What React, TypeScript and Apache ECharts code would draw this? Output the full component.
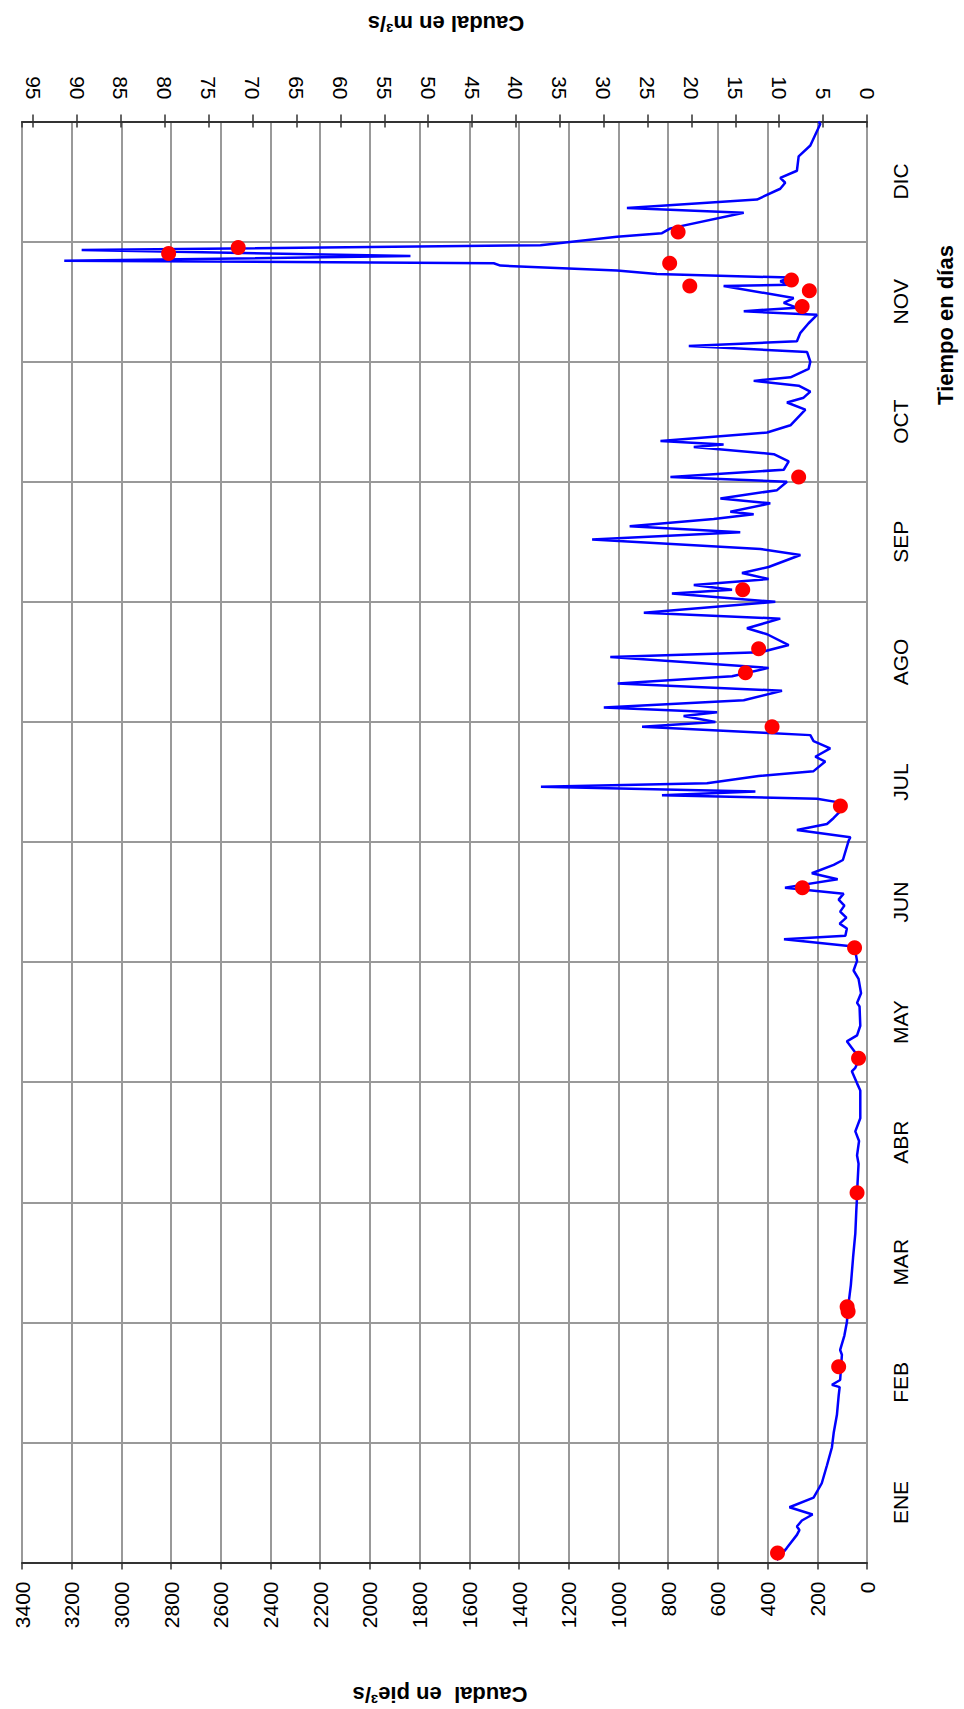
import React, { useEffect, useRef } from "react";
import * as echarts from "echarts";

// Month labels (time axis, bottom -> top)
const monthLabels = ["ENE", "FEB", "MAR", "ABR", "MAY", "JUN", "JUL", "AGO", "SEP", "OCT", "NOV", "DIC"];

// Daily hydrograph, time in months from 1 January (0..12), flow in ft3/s
const flowMonthsH1 = [
  0.02, 0.12, 0.23, 0.27, 0.3, 0.35, 0.4, 0.46, 0.54, 0.66,
  0.81, 0.96, 1.08, 1.23, 1.39, 1.46, 1.48, 1.52, 1.73, 1.77,
  1.89, 2.0, 2.16, 2.31, 2.54, 2.74, 2.93, 3.05, 3.16, 3.32,
  3.39, 3.51, 3.59, 3.7, 3.93, 3.99, 4.09, 4.12, 4.2, 4.34,
  4.39, 4.47, 4.63, 4.66, 4.74, 4.86, 4.93, 5.01, 5.09, 5.13,
  5.19, 5.22, 5.28, 5.32, 5.37, 5.42, 5.47, 5.52, 5.57, 5.62,
  5.69, 5.74, 5.81, 5.85, 6.01,
];
const flowCfsH1 = [
  363, 323, 282, 272, 282, 262, 219, 312, 215, 182,
  161, 141, 134, 121, 114, 110, 141, 108, 101, 108,
  91, 81, 74, 65, 56, 47, 43, 40, 38, 34,
  40, 32, 47, 27, 27, 40, 61, 47, 30, 81,
  40, 27, 30, 40, 24, 34, 54, 40, 47, 54,
  334, 87, 81, 110, 83, 108, 91, 114, 94, 330,
  118, 222, 134, 97, 74,
];
const flowMonthsH2 = [
  6.04, 6.1, 6.15, 6.2, 6.27, 6.33, 6.36, 6.39, 6.42, 6.46,
  6.49, 6.55, 6.59, 6.67, 6.71, 6.78, 6.84, 6.89, 6.91, 6.96,
  7.0, 7.05, 7.08, 7.12, 7.18, 7.26, 7.32, 7.38, 7.45, 7.54,
  7.58, 7.64, 7.73, 7.78, 7.86, 7.91, 8.0, 8.07, 8.1, 8.14,
  8.19, 8.24, 8.29, 8.39, 8.44, 8.52, 8.58, 8.63, 8.69, 8.73,
  8.75, 8.82, 8.86, 8.93, 9.0, 9.04, 9.1, 9.17, 9.23, 9.29,
  9.31, 9.34, 9.41, 9.47, 9.6, 9.66, 9.7, 9.75, 9.8, 9.84,
  9.87, 9.94, 10.0, 10.08, 10.13, 10.17, 10.24, 10.32, 10.39, 10.42,
  10.45, 10.49, 10.53, 10.63, 10.64, 10.67, 10.7, 10.73, 10.76, 10.8,
  10.82, 10.84, 10.88, 10.93, 10.97, 11.04, 11.07, 11.11, 11.24, 11.28,
  11.35, 11.44, 11.49, 11.53, 11.59, 11.71, 11.8, 11.98, 12.0,
];
const flowCfsH2 = [
  67, 282, 161, 134, 101, 114, 201, 825, 449, 1312,
  644, 436, 215, 168, 208, 148, 215, 228, 416, 905,
  610, 738, 603, 1059, 496, 342, 1003, 543, 396, 1033,
  429, 315, 402, 483, 349, 898, 369, 785, 543, 697,
  396, 503, 396, 268, 429, 1106, 510, 955, 617, 456,
  550, 389, 590, 362, 322, 791, 335, 315, 375, 697,
  577, 831, 402, 308, 248, 322, 255, 228, 275, 456,
  308, 235, 228, 241, 717, 282, 268, 235, 201, 496,
  282, 335, 295, 577, 308, 349, 308, 845, 1006, 1475,
  1502, 3230, 1837, 3160, 1314, 1006, 825, 791, 496, 966,
  443, 349, 329, 349, 282, 275, 228, 188, 195,
];

// Measured points (red dots)
const sampleMonths = [0.08, 1.63, 2.09, 2.13, 3.08, 4.2, 5.12, 5.62, 6.3, 6.96, 7.41, 7.61, 8.1, 9.04, 10.46, 10.59, 10.68, 10.63, 10.82, 10.9, 10.95, 11.08];
const sampleCfs = [360, 114, 76, 80, 40, 34, 50, 260, 107, 382, 489, 436, 500, 275, 261, 232, 304, 713, 794, 2810, 2530, 760];

const CFS_PER_CMS = 35.3147;
const CFS_MAX = 3400;
const FONT = '"Liberation Sans", Arial, sans-serif';

export default function App() {
  const ref = useRef<HTMLDivElement>(null);

  useEffect(() => {
    const chart = echarts.init(ref.current as HTMLDivElement, null, { renderer: "svg" });
    const months = flowMonthsH1.concat(flowMonthsH2);
    const cfs = flowCfsH1.concat(flowCfsH2);
    const lineData = months.map((m, i) => [cfs[i], m]);
    const dotData = sampleMonths.map((m, i) => [sampleCfs[i], m]);
    const axisColor = "#333";
    const gridColor = "#999";
    const cmsMax = CFS_MAX / CFS_PER_CMS;

    chart.setOption({
      animation: false,
      backgroundColor: "#fff",
      textStyle: { fontFamily: FONT },
      grid: { left: 22, top: 121.5, width: 845, height: 1441, containLabel: false },
      xAxis: [
        {
          type: "value",
          position: "bottom",
          min: 0,
          max: CFS_MAX,
          interval: 200,
          inverse: true,
          axisLine: { show: true, lineStyle: { color: axisColor, width: 2 } },
          axisTick: { show: true, inside: false, length: 7, lineStyle: { color: axisColor, width: 1.5 } },
          axisLabel: {
            rotate: 90,
            margin: 19,
            fontSize: 21,
            color: "#000",
            fontFamily: FONT,
            formatter: (v: number) => String(Math.round(v)),
          },
          splitLine: { show: true, lineStyle: { color: gridColor, width: 2 } },
        },
        {
          type: "value",
          position: "top",
          min: 0,
          max: cmsMax,
          interval: 5,
          inverse: true,
          axisLine: { show: true, lineStyle: { color: axisColor, width: 2 } },
          axisTick: { show: true, inside: false, length: 7, lineStyle: { color: axisColor, width: 1.5 } },
          axisLabel: {
            rotate: 90,
            margin: 22,
            fontSize: 21,
            color: "#000",
            fontFamily: FONT,
            showMaxLabel: false,
            formatter: (v: number) => (Math.abs(v - Math.round(v / 5) * 5) < 1e-6 ? String(Math.round(v)) : ""),
          },
          splitLine: { show: false },
        },
        {
          type: "value",
          position: "top",
          min: 0,
          max: cmsMax,
          interval: 5,
          inverse: true,
          axisLine: { show: false },
          axisTick: { show: true, inside: true, length: 6, lineStyle: { color: axisColor, width: 1.5 } },
          axisLabel: { show: false },
          splitLine: { show: false },
        },
      ],
      yAxis: [
        {
          type: "value",
          position: "right",
          min: 0,
          max: 12,
          interval: 1,
          axisLine: { show: false },
          axisTick: { show: false },
          axisLabel: { show: false },
          splitLine: { show: true, lineStyle: { color: gridColor, width: 2 } },
        },
        {
          type: "category",
          position: "right",
          data: monthLabels,
          boundaryGap: true,
          axisLine: { show: false },
          axisTick: { show: false },
          axisLabel: { rotate: 90, margin: 23, fontSize: 21, color: "#000", fontFamily: FONT },
          splitLine: { show: false },
        },
      ],
      series: [
        {
          type: "line",
          xAxisIndex: 0,
          yAxisIndex: 0,
          data: lineData,
          showSymbol: false,
          symbol: "none",
          lineStyle: { color: "#0000FF", width: 2.5, opacity: 1 },
          itemStyle: { color: "#0000FF" },
          z: 3,
        },
        {
          type: "scatter",
          xAxisIndex: 0,
          yAxisIndex: 0,
          data: dotData,
          symbol: "circle",
          symbolSize: 15,
          itemStyle: { color: "#FF0000", opacity: 1 },
          z: 4,
        },
      ],
      graphic: [
        {
          type: "text",
          x: 446,
          y: 23,
          rotation: Math.PI,
          style: {
            text: "Caudal en m³/s",
            fontSize: 22,
            fontWeight: "bold",
            fontFamily: FONT,
            fill: "#000",
            align: "center",
            verticalAlign: "middle",
          },
        },
        {
          type: "text",
          x: 440,
          y: 1694,
          rotation: Math.PI,
          style: {
            text: "Caudal  en pie³/s",
            fontSize: 22,
            fontWeight: "bold",
            fontFamily: FONT,
            fill: "#000",
            align: "center",
            verticalAlign: "middle",
          },
        },
        {
          type: "text",
          x: 945,
          y: 325,
          rotation: Math.PI / 2,
          style: {
            text: "Tiempo en días",
            fontSize: 22,
            fontWeight: "bold",
            fontFamily: FONT,
            fill: "#000",
            align: "center",
            verticalAlign: "middle",
          },
        },
      ],
    });

    return () => chart.dispose();
  }, []);

  return (
    <div
      ref={ref}
      style={{ position: "absolute", left: 0, top: 0, width: 964, height: 1709, background: "#fff" }}
    />
  );
}
